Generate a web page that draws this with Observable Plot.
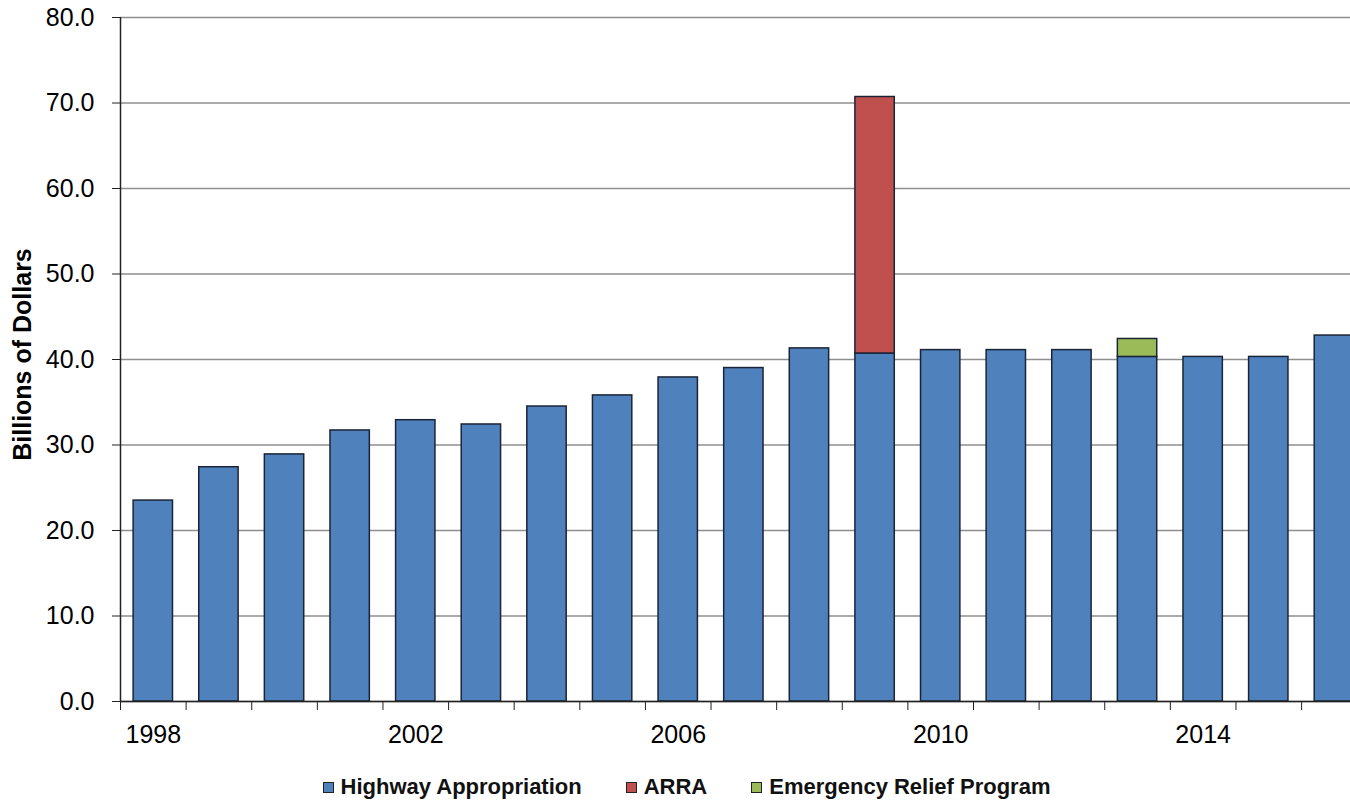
<!DOCTYPE html>
<html>
<head>
<meta charset="utf-8">
<script src="https://cdn.jsdelivr.net/npm/d3@7"></script>
<script src="https://cdn.jsdelivr.net/npm/@observablehq/plot@0.6"></script>
<style>
  html, body { margin: 0; padding: 0; background: #fff; overflow: hidden; }
  body { width: 1350px; height: 803px; position: relative; font-family: "Liberation Sans", Arial, sans-serif; }
  #chart svg { display: block; }
  #legend { position: absolute; left: 0; top: 775px; width: 1350px; display: flex; justify-content: center; padding-left: 23px; box-sizing: border-box; font-weight: bold; font-size: 22px; line-height: 24px; color: #111; }
  .item { display: flex; align-items: center; margin: 0 22px; }
  .sw { width: 9px; height: 9px; border: 1px solid #222; margin-right: 7px; }
</style>
</head>
<body>
<div id="chart"></div>
<div id="legend"></div>
<script>
const years = [1998,1999,2000,2001,2002,2003,2004,2005,2006,2007,2008,2009,2010,2011,2012,2013,2014,2015,2016];
const highway = [23.5,27.4,28.9,31.7,32.9,32.4,34.5,35.8,37.9,39.0,41.3,40.7,41.1,41.1,41.1,40.3,40.3,40.3,42.8];
const arra    = [0,0,0,0,0,0,0,0,0,0,0,30.0,0,0,0,0,0,0,0];
const relief  = [0,0,0,0,0,0,0,0,0,0,0,0,0,0,0,2.1,0,0,0];
const seriesNames = ["Highway Appropriation", "ARRA", "Emergency Relief Program"];
const seriesColors = ["#4F81BD", "#C0504D", "#9BBB59"];
const labelYears = [1998, 2002, 2006, 2010, 2014];
const yTicks = [0,10,20,30,40,50,60,70,80];

const seriesValues = [highway, arra, relief];
const rows = [];
years.forEach((yr, i) => {
  seriesNames.forEach((s, j) => {
    const v = seriesValues[j][i];
    if (v > 0) rows.push({year: yr, series: s, value: v});
  });
});

const W = 1350, H = 760;
const xRange = [120, 1366.7];
const step = (xRange[1] - xRange[0]) / years.length;

const plot = Plot.plot({
  width: W,
  height: H,
  marginLeft: 120,
  marginRight: 0,
  marginTop: 17,
  marginBottom: H - 701,
  style: {fontFamily: "'Liberation Sans', Arial, sans-serif", color: "#000", background: "#fff"},
  x: {type: "band", domain: years, range: xRange, paddingInner: 0.4, paddingOuter: 0.2, align: 0.5, round: false, axis: null},
  y: {domain: [0, 80], axis: null},
  color: {domain: seriesNames, range: seriesColors},
  marks: [
    Plot.gridY(yTicks, {stroke: "#8e8e8e", strokeOpacity: 1, strokeWidth: 1.4}),
    Plot.barY(rows, {x: "year", y: "value", fill: "series", order: seriesNames, stroke: "#1b2436", strokeWidth: 1.5}),
    Plot.ruleY([0], {stroke: "#222", strokeWidth: 1.5}),
    Plot.ruleX([years[0]], {dx: -step / 2, stroke: "#222", strokeWidth: 1.5}),
    Plot.axisY({ticks: yTicks, tickFormat: d3.format(".1f"), tickSize: 8, tickPadding: 18, fontSize: 25, stroke: "#222", fill: "#000", label: null}),
    Plot.axisX({ticks: years, tickFormat: () => "", tickSize: 9, dx: -step / 2, stroke: "#222", label: null}),
    Plot.axisX({ticks: labelYears, tickFormat: d => String(d), tickSize: 0, tickPadding: 24, fontSize: 25, fill: "#000", label: null}),
    Plot.text(["Billions of Dollars"], {frameAnchor: "left", textAnchor: "middle", rotate: -90, dx: -98, dy: -5, fontSize: 25, fontWeight: "bold", fill: "#000"})
  ]
});
document.getElementById("chart").appendChild(plot);

const legend = document.getElementById("legend");
seriesNames.forEach((s, j) => {
  const item = document.createElement("div");
  item.className = "item";
  const sw = document.createElement("span");
  sw.className = "sw";
  sw.style.background = seriesColors[j];
  const t = document.createElement("span");
  t.textContent = s;
  item.appendChild(sw);
  item.appendChild(t);
  legend.appendChild(item);
});
</script>
</body>
</html>
